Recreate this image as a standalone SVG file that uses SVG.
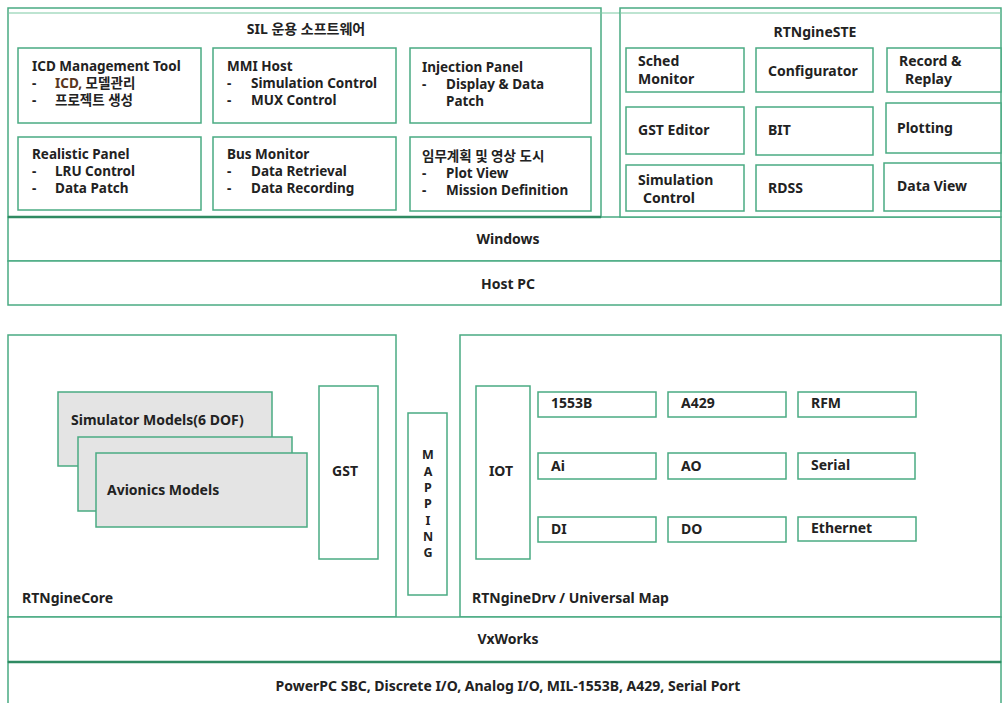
<svg xmlns="http://www.w3.org/2000/svg" width="1002" height="703" viewBox="0 0 1002 703">
<style>
.b{fill:#fff;stroke:#4aab82;stroke-width:1.5}
.g{fill:#e4e4e4;stroke:#4aab82;stroke-width:1.5}
.k{stroke:#2f8a62;stroke-width:2.5;fill:none}
.t{stroke:#7cc9a4;stroke-width:1.2;fill:none}
text{font-family:"Noto Sans","Noto Sans CJK KR",sans-serif;font-size:14px;font-weight:bold;fill:#222}
.s{font-size:13.5px}
.m{font-size:12.5px}
.c{text-anchor:middle}
</style>
<rect width="1002" height="703" fill="#fff"/>

<g id="windows"><rect class="b" x="8" y="217" width="993" height="44"/><text class="c" x="508" y="244">Windows</text></g>
<g id="host-pc"><rect class="b" x="8" y="261" width="993" height="44"/><text class="c" x="508" y="289">Host PC</text></g>

<g id="sil">
<rect class="b" x="8" y="8" width="593" height="209"/>
<line class="t" x1="8" y1="13" x2="1001" y2="13"/>
<line class="k" x1="8" y1="217" x2="601" y2="217"/>
<text x="306" y="34" class="c">SIL 운용 소프트웨어</text>
</g>
<g id="icd"><rect class="b" x="18" y="48" width="183" height="75"/>
<text class="s" x="32" y="71">ICD Management Tool</text>
<text class="s" x="32" y="88">-</text><text class="s" x="55" y="88"><tspan fill="#5a3520">ICD,</tspan> 모델관리</text>
<text class="s" x="32" y="105">-</text><text class="s" x="55" y="105">프로젝트 생성</text></g>
<g id="mmi"><rect class="b" x="213" y="48" width="183" height="75"/>
<text class="s" x="227" y="71">MMI Host</text>
<text class="s" x="227" y="88">-</text><text class="s" x="251" y="88">Simulation Control</text>
<text class="s" x="227" y="105">-</text><text class="s" x="251" y="105">MUX Control</text></g>
<g id="injection"><rect class="b" x="410" y="48" width="181" height="75"/>
<text class="s" x="422" y="72">Injection Panel</text>
<text class="s" x="422" y="89">-</text><text class="s" x="446" y="89">Display &amp; Data</text>
<text class="s" x="446" y="106">Patch</text></g>
<g id="realistic"><rect class="b" x="18" y="137" width="183" height="73"/>
<text class="s" x="32" y="159">Realistic Panel</text>
<text class="s" x="32" y="176">-</text><text class="s" x="55" y="176">LRU Control</text>
<text class="s" x="32" y="193">-</text><text class="s" x="55" y="193">Data Patch</text></g>
<g id="bus-monitor"><rect class="b" x="213" y="137" width="183" height="73"/>
<text class="s" x="227" y="159">Bus Monitor</text>
<text class="s" x="227" y="176">-</text><text class="s" x="251" y="176">Data Retrieval</text>
<text class="s" x="227" y="193">-</text><text class="s" x="251" y="193">Data Recording</text></g>
<g id="mission"><rect class="b" x="410" y="137" width="181" height="74"/>
<text class="s" x="422" y="161">임무계획 및 영상 도시</text>
<text class="s" x="422" y="178">-</text><text class="s" x="446" y="178">Plot View</text>
<text class="s" x="422" y="195">-</text><text class="s" x="446" y="195">Mission Definition</text></g>

<g id="rtnginestE"><rect class="b" x="620" y="8" width="381" height="209"/>
<line class="t" x1="620" y1="13" x2="1001" y2="13"/>
<text class="c" x="815" y="37">RTNgineSTE</text></g>
<g id="sched"><rect class="b" x="626" y="48" width="118" height="44"/><text x="638" y="66">Sched</text><text x="638" y="84">Monitor</text></g>
<g id="configurator"><rect class="b" x="756" y="48" width="117" height="44"/><text x="768" y="76">Configurator</text></g>
<g id="record"><rect class="b" x="887" y="48" width="114" height="44"/><text x="899" y="66">Record &amp;</text><text x="905" y="84">Replay</text></g>
<g id="gst-editor"><rect class="b" x="626" y="107" width="118" height="47"/><text x="638" y="135">GST Editor</text></g>
<g id="bit"><rect class="b" x="756" y="107" width="117" height="48"/><text x="768" y="135">BIT</text></g>
<g id="plotting"><rect class="b" x="886" y="103" width="115" height="50"/><text x="897" y="133">Plotting</text></g>
<g id="sim-control"><rect class="b" x="626" y="165" width="118" height="46"/><text x="638" y="185">Simulation</text><text x="643" y="203">Control</text></g>
<g id="rdss"><rect class="b" x="756" y="165" width="117" height="46"/><text x="768" y="193">RDSS</text></g>
<g id="data-view"><rect class="b" x="884" y="163" width="117" height="48"/><text x="897" y="191">Data View</text></g>

<g id="rtnginecore"><rect class="b" x="8" y="335" width="388" height="282"/><text x="22" y="603">RTNgineCore</text></g>
<g id="simulator-models"><rect class="g" x="58" y="392" width="214" height="74"/><text x="71" y="425">Simulator Models(6 DOF)</text></g>
<g id="models-mid"><rect class="g" x="78" y="437" width="214" height="74"/></g>
<g id="avionics-models"><rect class="g" x="96" y="453" width="211" height="74"/><text x="107" y="495">Avionics Models</text></g>
<g id="gst"><rect class="b" x="319" y="386" width="59" height="173"/><text class="c" x="345" y="476">GST</text></g>
<g id="mapping"><rect class="b" x="408" y="413" width="39" height="182"/>
<text class="c m" x="428"><tspan x="428" y="459">M</tspan><tspan x="428" y="476">A</tspan><tspan x="428" y="492">P</tspan><tspan x="428" y="508">P</tspan><tspan x="428" y="525">I</tspan><tspan x="428" y="541">N</tspan><tspan x="428" y="557">G</tspan></text></g>
<g id="rtnginedrv"><rect class="b" x="460" y="335" width="541" height="282"/><text x="472" y="603">RTNgineDrv / Universal Map</text></g>
<g id="iot"><rect class="b" x="476" y="386" width="54" height="173"/><text class="c" x="501" y="476">IOT</text></g>
<g id="b1553"><rect class="b" x="538" y="392" width="118" height="25"/><text x="551" y="408">1553B</text></g>
<g id="a429"><rect class="b" x="668" y="392" width="118" height="25"/><text x="681" y="408">A429</text></g>
<g id="rfm"><rect class="b" x="798" y="392" width="118" height="25"/><text x="811" y="408">RFM</text></g>
<g id="ai"><rect class="b" x="538" y="453" width="118" height="26"/><text x="551" y="471">Ai</text></g>
<g id="ao"><rect class="b" x="668" y="453" width="118" height="26"/><text x="681" y="471">AO</text></g>
<g id="serial"><rect class="b" x="798" y="453" width="117" height="26"/><text x="811" y="470">Serial</text></g>
<g id="di"><rect class="b" x="538" y="517" width="118" height="25"/><text x="551" y="534">DI</text></g>
<g id="do"><rect class="b" x="668" y="517" width="118" height="25"/><text x="681" y="534">DO</text></g>
<g id="ethernet"><rect class="b" x="798" y="517" width="118" height="24"/><text x="811" y="533">Ethernet</text></g>

<g id="vxworks"><rect class="b" x="8" y="617" width="993" height="45"/><text class="c" x="508" y="644">VxWorks</text></g>
<g id="powerpc"><rect class="b" x="8" y="662" width="993" height="45"/><line class="k" x1="8" y1="662" x2="1001" y2="662"/><text class="c" x="508" y="691">PowerPC SBC, Discrete I/O, Analog I/O, MIL-1553B, A429, Serial Port</text></g>
<g id="connectors"/>
</svg>
